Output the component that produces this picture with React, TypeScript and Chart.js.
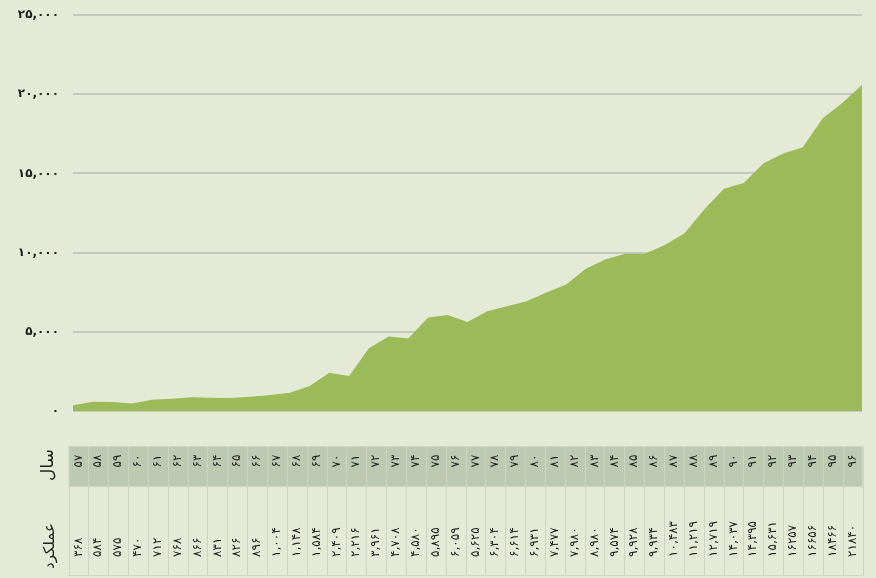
import React, { useEffect, useRef } from "react";
import { Chart, registerables } from "chart.js";

Chart.register(...registerables);

// Years shown in the data table (Persian calendar, two-digit)
const years = [
  57, 58, 59, 60, 61, 62, 63, 64, 65, 66, 67, 68, 69, 70, 71, 72, 73, 74, 75, 76,
  77, 78, 79, 80, 81, 82, 83, 84, 85, 86, 87, 88, 89, 90, 91, 92, 93, 94, 95, 96,
];

// Yield labels as printed in the data table
const yieldLabels = [
  "۳۶۸", "۵۸۴", "۵۷۵", "۴۷۰", "۷۱۲", "۷۶۸", "۸۶۶", "۸۳۱", "۸۲۶", "۸۹۶",
  "۱,۰۰۴", "۱,۱۴۸", "۱,۵۸۴", "۲,۴۰۹", "۲,۲۱۶", "۳,۹۶۱", "۴,۷۰۸", "۴,۵۸۰", "۵,۸۹۵", "۶,۰۵۹",
  "۵,۶۲۵", "۶,۳۰۴", "۶,۶۱۴", "۶,۹۳۱", "۷,۴۷۷", "۷,۹۸۰", "۸,۹۸۰", "۹,۵۷۴", "۹,۹۲۸", "۹,۹۳۴",
  "۱۰,۴۸۳", "۱۱,۲۱۹", "۱۲,۷۱۹", "۱۴,۰۳۷", "۱۴,۳۹۵", "۱۵,۶۳۱", "۱۶۲۵۷", "۱۶۶۵۶", "۱۸۴۶۶", "۲۱۸۴۰",
];

// Values plotted in the area
const areaValues = [
  368, 584, 575, 470, 712, 768, 866, 831, 826, 896,
  1004, 1148, 1584, 2409, 2216, 3961, 4708, 4580, 5895, 6059,
  5625, 6304, 6614, 6931, 7477, 7980, 8980, 9574, 9928, 9934,
  10483, 11219, 12719, 14037, 14395, 15631, 16257, 16656, 18466, 19450,
  20600,
];
const areaLabels = areaValues.map((_, i) => String(i));

const yMin = 0;
const yMax = 25000;
const yStep = 5000;

const rowTitleYear = "سال";
const rowTitleYield = "عملکرد";

const FA_DIGITS = "۰۱۲۳۴۵۶۷۸۹";
const fa = (s: string) => s.replace(/[0-9]/g, (d) => FA_DIGITS[+d]);

const BG = "#e5ead6";
const AREA = "#9bbb59";
const HEADER = "#bdc9b1";
const CELL_LINE = "#cfd3c3";
const TEXT = "#1e1e1e";
const FONT = "'DejaVu Sans', sans-serif";

const tablePlugin = {
  id: "dataTable",
  afterDraw(chart: any) {
    const { ctx, chartArea } = chart;
    const left = chartArea.left - 4.5;
    const right = chartArea.right + 0.5;
    const top = 446.5;
    const mid = 486.5;
    const bottom = 575.5;
    const n = years.length;
    const w = (right - left) / n;
    ctx.save();
    ctx.fillStyle = HEADER;
    ctx.fillRect(left, top, right - left, mid - top);
    ctx.strokeStyle = CELL_LINE;
    ctx.lineWidth = 1;
    ctx.beginPath();
    [top, mid, bottom].forEach((y) => {
      ctx.moveTo(left, y);
      ctx.lineTo(right, y);
    });
    for (let i = 0; i <= n; i++) {
      const x = Math.round(left + i * w) + 0.5;
      ctx.moveTo(x, top);
      ctx.lineTo(x, bottom);
    }
    ctx.stroke();

    ctx.fillStyle = TEXT;
    ctx.textBaseline = "middle";
    for (let i = 0; i < n; i++) {
      const cx = left + (i + 0.5) * w;
      ctx.save();
      ctx.font = `12px ${FONT}`;
      ctx.translate(cx, 461);
      ctx.rotate(-Math.PI / 2);
      ctx.textAlign = "center";
      ctx.fillText(fa(String(years[i])), 0, 0);
      ctx.restore();

      ctx.save();
      ctx.font = `12px ${FONT}`;
      ctx.translate(cx, 557);
      ctx.rotate(-Math.PI / 2);
      ctx.textAlign = "left";
      ctx.fillText(yieldLabels[i], 0, 0);
      ctx.restore();
    }

    ctx.save();
    ctx.font = `17px ${FONT}`;
    ctx.translate(49, 465);
    ctx.rotate(-Math.PI / 2);
    ctx.textAlign = "center";
    ctx.fillText(rowTitleYear, 0, 0);
    ctx.restore();

    ctx.save();
    ctx.font = `15px ${FONT}`;
    ctx.translate(50, 546);
    ctx.rotate(-Math.PI / 2);
    ctx.textAlign = "center";
    ctx.fillText(rowTitleYield, 0, 0);
    ctx.restore();

    ctx.restore();
  },
};

export default function App() {
  const ref = useRef<HTMLCanvasElement | null>(null);

  useEffect(() => {
    if (!ref.current) return;
    const chart = new Chart(ref.current, {
      type: "line",
      data: {
        labels: areaLabels,
        datasets: [
          {
            data: areaValues,
            fill: "origin",
            backgroundColor: AREA,
            borderColor: "rgba(0,0,0,0)",
            borderWidth: 1,
            pointRadius: 0,
            tension: 0,
          },
        ],
      },
      options: {
        animation: false,
        responsive: false,
        events: [],
        layout: { padding: { top: 15, bottom: 167, right: 14, left: 0 } },
        plugins: {
          legend: { display: false },
          tooltip: { enabled: false },
        },
        scales: {
          x: { display: false, offset: false },
          y: {
            min: yMin,
            max: yMax,
            afterFit: (s: any) => {
              s.width = 73;
            },
            border: { display: false },
            grid: {
              color: "#c6c7be",
              lineWidth: 2,
              drawTicks: true,
              tickLength: 14,
              tickColor: "rgba(0,0,0,0)",
            },
            ticks: {
              stepSize: yStep,
              padding: 0,
              color: TEXT,
              font: { family: FONT, size: 12, weight: "bold" },
              callback: (v: any) => fa(Number(v).toLocaleString("en-US")),
            },
          },
        },
      },
      plugins: [tablePlugin],
    });
    return () => chart.destroy();
  }, []);

  return (
    <div style={{ width: 876, height: 578, background: BG }}>
      <style>{`body{margin:0;background:${BG};}`}</style>
      <canvas ref={ref} width={876} height={578} style={{ display: "block" }} />
    </div>
  );
}
